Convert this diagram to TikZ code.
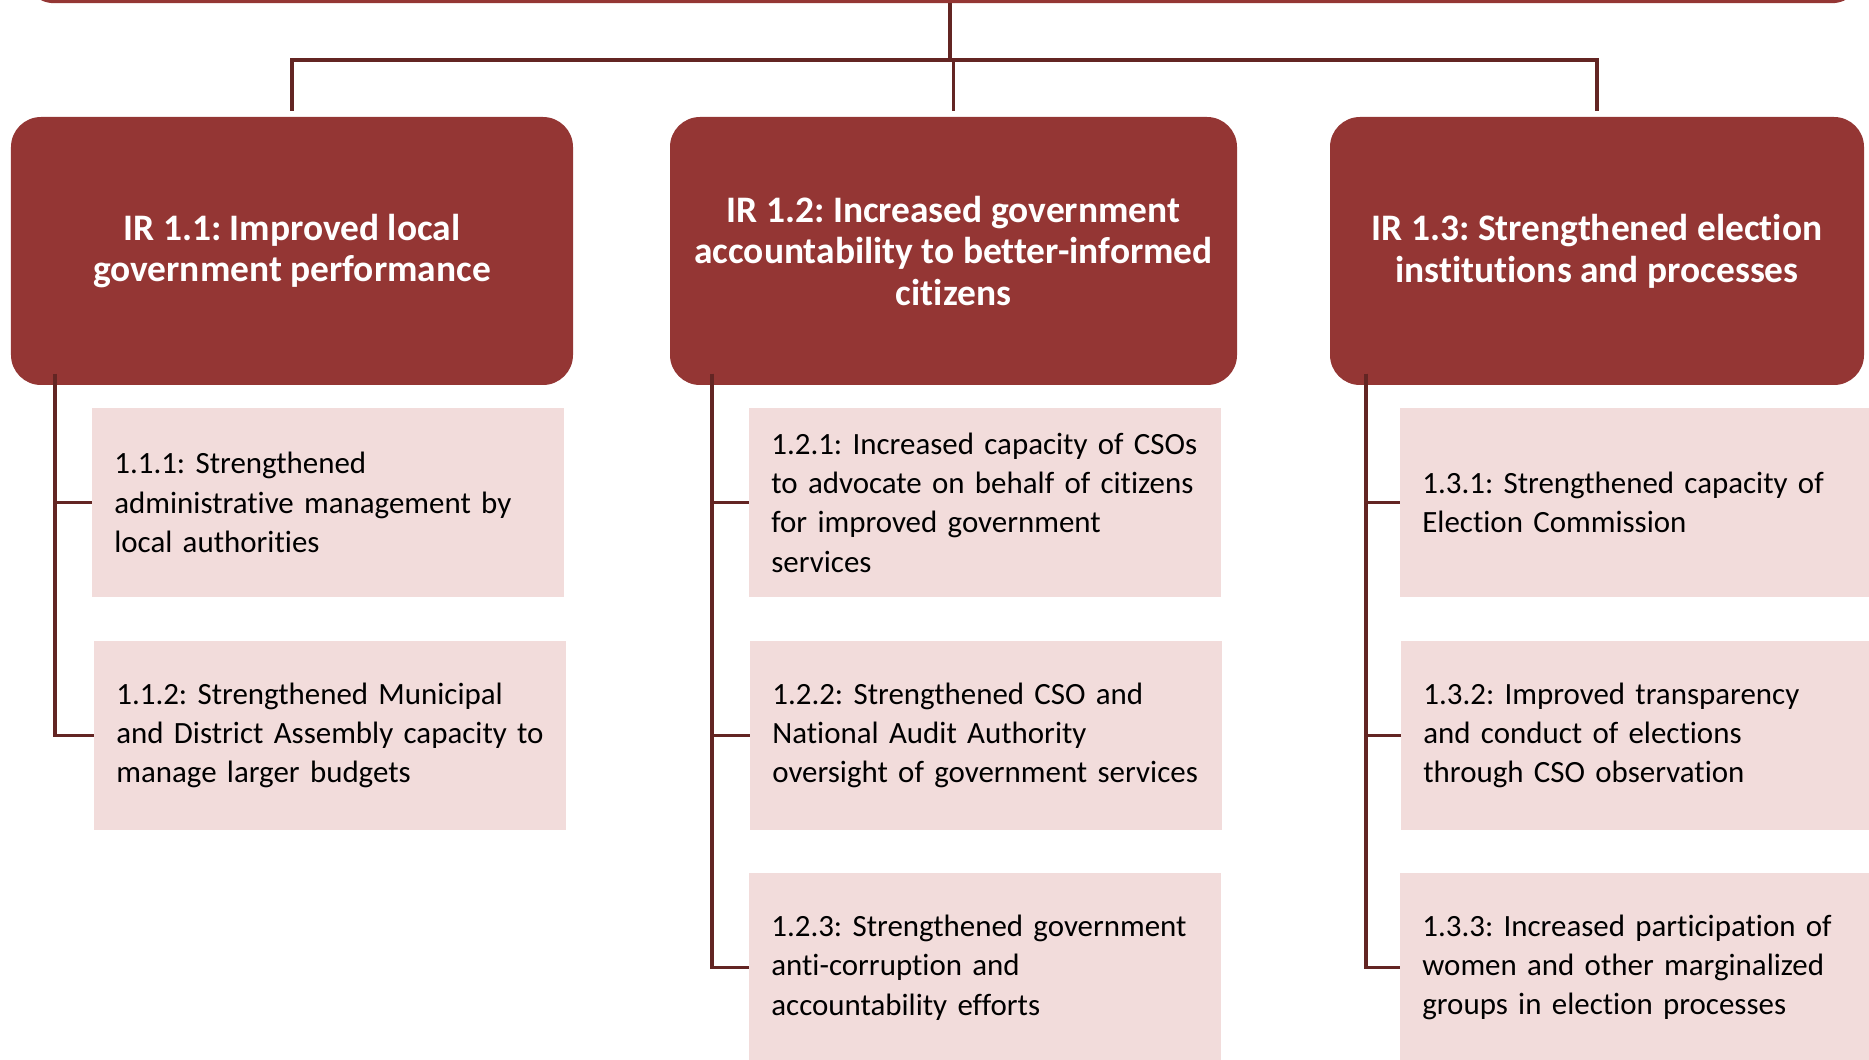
\documentclass[tikz,border=0pt]{standalone}
\usepackage{fontspec}
\setmainfont{Carlito}[Ligatures=NoCommon]
\frenchspacing
\definecolor{irred}{HTML}{943634}
\definecolor{subpink}{HTML}{F2DCDB}
\definecolor{linkred}{HTML}{632523}

\begin{document}
\begin{tikzpicture}[
    irbox/.style={fill=irred, rounded corners=0.6cm, text=white, align=center,
        font=\bfseries\fontsize{21.3}{23.7}\selectfont, minimum height=5.36cm, inner sep=0pt},
    subbox/.style={fill=subpink, text width=8.56cm, inner xsep=0.44cm, inner ysep=0pt,
        minimum height=3.78cm, align=left, anchor=west, font=\fontsize{17.6}{22.4}\selectfont},
    link/.style={draw=linkred, line width=1.8pt}
]
    \useasboundingbox (0,0) rectangle (37.38,-21.2);
    \clip (0,0) rectangle (37.38,-21.2);

    % Objectif du haut (seul le bord inférieur est visible)
    \node[irbox, minimum width=36.76cm, minimum height=2cm, anchor=south] (goal) at (18.86,-0.07) {};

    % Résultats intermédiaires
    \node[irbox, minimum width=11.24cm] (ir11) at (5.84,-5.02) {IR 1.1: Improved local\\government performance};
    \node[irbox, minimum width=11.34cm] (ir12) at (19.07,-5.02) {IR 1.2: Increased government\\accountability to better-informed\\citizens};
    \node[irbox, minimum width=10.68cm] (ir13) at (31.94,-5.02) {IR 1.3: Strengthened election\\institutions and processes};

    % Sous-résultats, colonne 1
    \node[subbox] (s111) at (1.84,-10.05) {1.1.1: Strengthened\\administrative management by\\local authorities};
    \node[subbox] (s112) at (1.88,-14.71) {1.1.2: Strengthened Municipal\\and District Assembly capacity to\\manage larger budgets};

    % Sous-résultats, colonne 2
    \node[subbox] (s121) at (14.98,-10.05) {1.2.1: Increased capacity of CSOs\\to advocate on behalf of citizens\\for improved government\\services};
    \node[subbox] (s122) at (15.0,-14.71) {1.2.2: Strengthened CSO and\\National Audit Authority\\oversight of government services};
    \node[subbox] (s123) at (14.98,-19.35) {1.2.3: Strengthened government\\anti-corruption and\\accountability efforts};

    % Sous-résultats, colonne 3
    \node[subbox] (s131) at (28.0,-10.05) {1.3.1: Strengthened capacity of\\Election Commission};
    \node[subbox] (s132) at (28.02,-14.71) {1.3.2: Improved transparency\\and conduct of elections\\through CSO observation};
    \node[subbox] (s133) at (28.0,-19.35) {1.3.3: Increased participation of\\women and other marginalized\\groups in election processes};

    % Arbre du haut
    \coordinate (stem) at (19.0,-1.2);
    \draw[link] (goal.south -| stem) -- (stem);
    \foreach \b in {ir11,ir12,ir13}
        \draw[link, shorten >=3pt] (stem) -| (\b.north);

    % Lignes verticales des colonnes
    \coordinate (sp1) at (1.10,-7.48);
    \coordinate (sp2) at (14.24,-7.48);
    \coordinate (sp3) at (27.32,-7.48);
    \foreach \s in {s111,s112}
        \draw[link] (sp1) |- (\s.west);
    \foreach \s in {s121,s122,s123}
        \draw[link] (sp2) |- (\s.west);
    \foreach \s in {s131,s132,s133}
        \draw[link] (sp3) |- (\s.west);

\end{tikzpicture}
\end{document}
